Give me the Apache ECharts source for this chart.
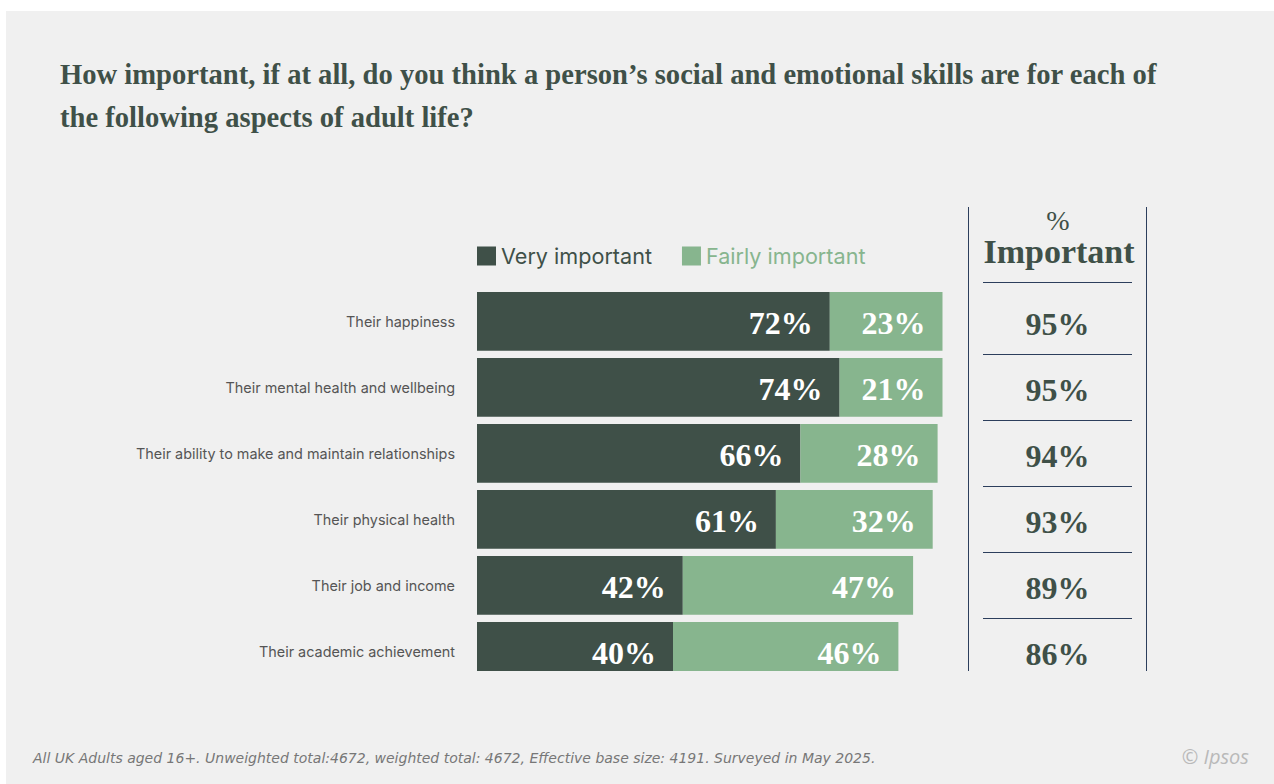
<!DOCTYPE html>
<html>
<head>
<meta charset="utf-8">
<script src="https://cdn.jsdelivr.net/npm/echarts@6/dist/echarts.min.js"></script>
<style>
  html, body { margin: 0; padding: 0; background: #ffffff; }
  #chart { width: 1274px; height: 784px; }
</style>
</head>
<body>
<div id="chart"></div>
<script>
// Survey aspects (top to bottom)
const categories = [
  'Their happiness',
  'Their mental health and wellbeing',
  'Their ability to make and maintain relationships',
  'Their physical health',
  'Their job and income',
  'Their academic achievement'
];
// Share answering each option (%)
const veryImportant   = [72, 74, 66, 61, 42, 40];
const fairlyImportant = [23, 21, 28, 32, 47, 46];
// Net "% Important" column
const netImportant    = [95, 95, 94, 93, 89, 86];

const DARK = '#3f5048';
const LIGHT = '#87b58e';
const RULE = '#2c3e5c';
const PANEL = '#f0f0f0';
const SERIF = "'Liberation Serif', 'DejaVu Serif', serif";
const SANS = "Inter, Roboto, 'Noto Sans', sans-serif";

const chart = echarts.init(document.getElementById('chart'), null, { renderer: 'svg' });

const valueLabel = {
  show: true,
  position: 'insideRight',
  distance: 17,
  offset: [0, 2],
  formatter: '{c}%',
  color: '#ffffff',
  fontFamily: SERIF,
  fontWeight: 'bold',
  fontSize: 32
};

chart.setOption({
  backgroundColor: '#ffffff',
  animation: false,
  title: [{
    text: 'How important, if at all, do you think a person\u2019s social and emotional skills are for each of\nthe following aspects of adult life?',
    left: 55,
    top: 48,
    textStyle: {
      color: DARK,
      fontFamily: SERIF,
      fontWeight: 'bold',
      fontSize: 28.6,
      lineHeight: 43
    }
  }],
  legend: {
    left: 472,
    top: 240,
    icon: 'rect',
    itemWidth: 19,
    itemHeight: 19,
    itemGap: 30,
    textStyle: { fontFamily: SANS, fontSize: 21.6 },
    data: [
      { name: 'Very important', textStyle: { color: DARK } },
      { name: 'Fairly important', textStyle: { color: LIGHT } }
    ]
  },
  grid: [
    { left: 477, top: 288.35, width: 490, height: 396 },
    { left: 983, top: 288.35, width: 149, height: 396 }
  ],
  xAxis: [
    { gridIndex: 0, type: 'value', min: 0, max: 100, show: false },
    { gridIndex: 1, type: 'value', min: 0, max: 1, show: false }
  ],
  yAxis: [
    {
      gridIndex: 0,
      type: 'category',
      inverse: true,
      data: categories,
      axisLine: { show: false },
      axisTick: { show: false },
      axisLabel: { color: '#555555', fontFamily: SANS, fontSize: 14.4, margin: 22 }
    },
    {
      gridIndex: 1,
      type: 'category',
      inverse: true,
      data: categories,
      axisLine: { show: false },
      axisTick: { show: false },
      axisLabel: { show: false },
      splitLine: {
        show: true,
        showMinLine: false,
        showMaxLine: false,
        lineStyle: { color: RULE, width: 1 }
      }
    }
  ],
  series: [
    {
      name: 'Very important',
      type: 'bar',
      stack: 'share',
      barCategoryGap: '11%',
      itemStyle: { color: DARK },
      label: valueLabel,
      data: veryImportant
    },
    {
      name: 'Fairly important',
      type: 'bar',
      stack: 'share',
      barCategoryGap: '11%',
      itemStyle: { color: LIGHT },
      label: valueLabel,
      data: fairlyImportant
    },
    {
      name: '% Important',
      type: 'scatter',
      xAxisIndex: 1,
      yAxisIndex: 1,
      symbolSize: 1,
      itemStyle: { color: 'rgba(0,0,0,0)', opacity: 1 },
      label: {
        show: true,
        position: 'inside',
        offset: [0, 3],
        formatter: p => netImportant[p.dataIndex] + '%',
        color: DARK,
        fontFamily: SERIF,
        fontWeight: 'bold',
        fontSize: 32
      },
      data: netImportant.map((v, i) => [0.5, categories[i]])
    }
  ],
  graphic: [
    // grey panel behind the chart
    { type: 'rect', z: -10, silent: true, shape: { x: 6, y: 11, width: 1268, height: 773 }, style: { fill: PANEL } },
    // lower edge of the plotting area
    { type: 'rect', z: 100, silent: true, shape: { x: 470, y: 671, width: 495, height: 20 }, style: { fill: PANEL } },
    // column rules for the net column
    { type: 'line', z: 50, silent: true, shape: { x1: 968.5, y1: 207, x2: 968.5, y2: 671 }, style: { stroke: RULE, lineWidth: 1 } },
    { type: 'line', z: 50, silent: true, shape: { x1: 1146.5, y1: 207, x2: 1146.5, y2: 671 }, style: { stroke: RULE, lineWidth: 1 } },
    { type: 'line', z: 50, silent: true, shape: { x1: 983, y1: 282.5, x2: 1132, y2: 282.5 }, style: { stroke: RULE, lineWidth: 1 } },
    // column heading
    { type: 'text', z: 50, style: { text: '%', x: 1058, y: 220, align: 'center', verticalAlign: 'middle', fill: DARK, font: "28px 'Liberation Serif', serif" } },
    { type: 'text', z: 50, style: { text: 'Important', x: 1059, y: 251, align: 'center', verticalAlign: 'middle', fill: DARK, font: "bold 34px 'Liberation Serif', serif" } },
    // footer
    { type: 'text', z: 50, style: { text: 'All UK Adults aged 16+. Unweighted total:4672, weighted total: 4672, Effective base size: 4191. Surveyed in May 2025.', x: 33, y: 758, verticalAlign: 'middle', fill: '#777777', font: "italic 14px 'DejaVu Sans', sans-serif" } },
    { type: 'text', z: 50, style: { text: '\u00a9 Ipsos', x: 1249, y: 756, align: 'right', verticalAlign: 'middle', fill: '#b9b9b9', font: "italic 20px 'Open Sans', sans-serif" } }
  ]
});
</script>
</body>
</html>
